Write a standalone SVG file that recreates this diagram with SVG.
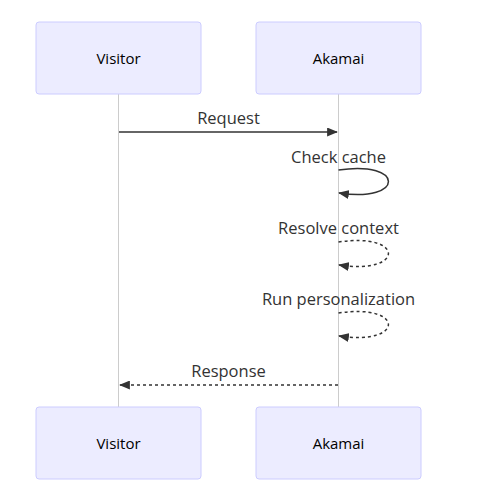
<svg xmlns="http://www.w3.org/2000/svg" width="479" height="494" viewBox="0 0 479 494">
<style>
.actor{fill:#ECECFF;stroke:#CCCCFF;stroke-width:1}
.atext{font-family:"Open Sans","Liberation Sans",sans-serif;font-size:15px;fill:#000;text-anchor:middle;dominant-baseline:central}
.life{stroke:#cccccc;stroke-width:1}
.msg{stroke:#333;stroke-width:1.5;fill:none}
.dash{stroke-dasharray:3,3}
.mtext{font-family:"Open Sans","Liberation Sans",sans-serif;font-size:16.5px;fill:#333;text-anchor:middle}
</style>
<defs>
<marker id="arrow" viewBox="0 0 12 10" refX="11" refY="5" markerWidth="11" markerHeight="9" markerUnits="userSpaceOnUse" orient="auto">
<path d="M0,0 L12,5 L0,10 z" fill="#333"/>
</marker>
</defs>
<rect width="479" height="494" fill="#fff"/>
<g id="lifelines">
<line class="life" x1="118.5" y1="94" x2="118.5" y2="407"/>
<line class="life" x1="338.5" y1="94" x2="338.5" y2="407"/>
</g>
<g id="visitor-top"><rect class="actor" x="36" y="22" width="165" height="72" rx="3"/><text class="atext" x="118.5" y="58">Visitor</text></g>
<g id="akamai-top"><rect class="actor" x="256" y="22" width="165" height="72" rx="3"/><text class="atext" x="338.5" y="58">Akamai</text></g>
<g id="visitor-bottom"><rect class="actor" x="36" y="407" width="165" height="72" rx="3"/><text class="atext" x="118.5" y="443">Visitor</text></g>
<g id="akamai-bottom"><rect class="actor" x="256" y="407" width="165" height="72" rx="3"/><text class="atext" x="338.5" y="443">Akamai</text></g>
<g id="connectors">
<line class="msg" x1="119" y1="132" x2="337" y2="132" marker-end="url(#arrow)"/>
<path class="msg" d="M338.5,170 C405,160 405,203 339,193" marker-end="url(#arrow)"/>
<path class="msg dash" d="M338.5,242 C405,232 405,275 339,265" marker-end="url(#arrow)"/>
<path class="msg dash" d="M338.5,313 C405,303 405,346 339,336" marker-end="url(#arrow)"/>
<line class="msg dash" x1="338" y1="385" x2="120" y2="385" marker-end="url(#arrow)"/>
</g>
<g id="labels">
<text class="mtext" x="228.5" y="124">Request</text>
<text class="mtext" x="338.5" y="163">Check cache</text>
<text class="mtext" x="338.5" y="234">Resolve context</text>
<text class="mtext" x="338.5" y="305">Run personalization</text>
<text class="mtext" x="228.5" y="377">Response</text>
</g>
</svg>
